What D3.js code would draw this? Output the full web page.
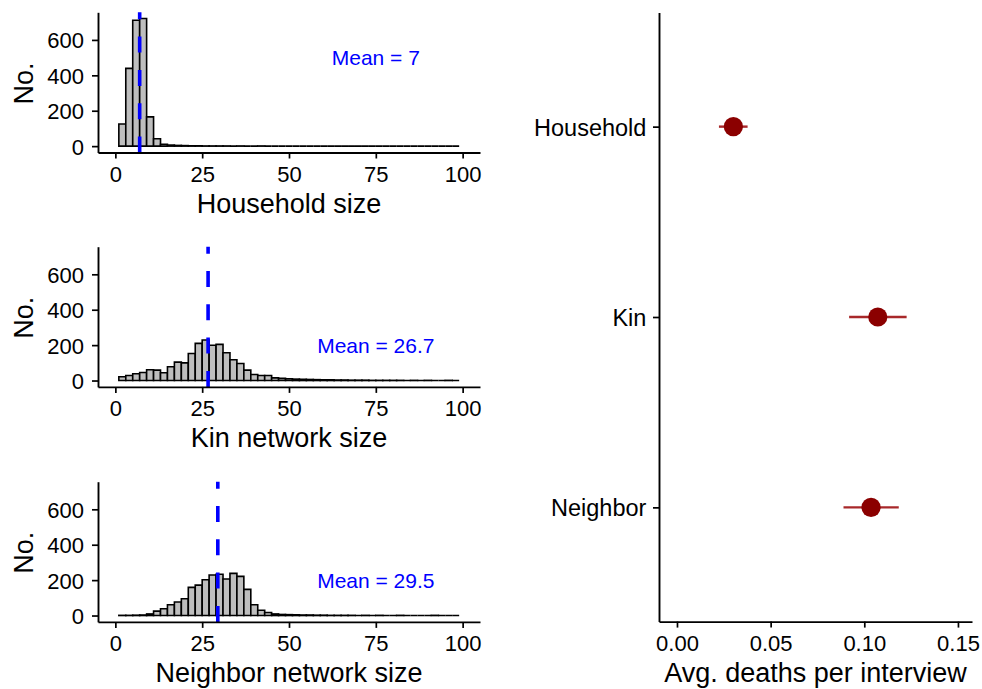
<!DOCTYPE html>
<html><head><meta charset="utf-8">
<script src="https://cdn.jsdelivr.net/npm/d3@7"></script>
<style>
body{margin:0;background:#fff}
text{font-family:"Liberation Sans",Arial,Helvetica,sans-serif;fill:#000}
</style>
</head><body>
<svg id="c" width="982" height="689"></svg>
<script>
// ---------- DATA ----------
const binStarts = [1,3,5,7,9,11,13,15,17,19,21,23,25,27,29,31,33,35,37,39,41,43,45,47,49,
  51,53,55,57,59,61,63,65,67,69,71,73,75,77,79,81,83,85,87,89,91,93,95,97];
const binWidth = 2;
const householdCounts = [125,439,711,721,165,42,11,6,4,3, 2,2,1,1,1,1,0,1,0,0, 1,0,0,0,0,0,0,0,0,0, 0,0,0,0,0,0,0,0,0,0, 0,0,0,0,0,0,0,0,0];
const kinCounts = [21,28,38,45,61,59,44,78,104,100, 153,210,229,199,204,157,117,96,59,34, 28,28,15,12,10,8,7,6,5,4, 4,3,3,2,2,2,1,1,1,1, 1,0,1,0,1,0,0,1,0];
const neighborCounts = [1,1,2,3,9,25,38,61,76,95, 159,172,202,229,233,206,238,221,148,61, 30,17,9,6,5,4,3,3,2,2, 1,1,1,1,0,1,0,1,0,0, 1,0,0,0,0,1,0,0,0];
const histTitles = ["Household size","Kin network size","Neighbor network size"];
const histMeans = [7, 26.7, 29.5];
const meanLabels = ["Mean = 7","Mean = 26.7","Mean = 29.5"];
const meanLabelX = [75, 75, 75];
const meanLabelY = [500, 200, 200];
const histXTicks = [0,25,50,75,100];
const histYTicks = [0,200,400,600];

const groups = ["Household","Kin","Neighbor"];
const deathMean = [0.0301, 0.1072, 0.1036];
const deathLow  = [0.0224, 0.0919, 0.0889];
const deathHigh = [0.0377, 0.1226, 0.1184];
const deathTicks = [0, 0.05, 0.10, 0.15];
const deathTickLabels = ["0.00","0.05","0.10","0.15"];

// ---------- DRAW ----------
const svg = d3.select("#c");
const allCounts = [householdCounts, kinCounts, neighborCounts];

const L = {x0: 98, x1: 480, tops: [12.3, 246.7, 481.7], h: 140.2};

const x = d3.scaleLinear().domain([-5, 105]).range([L.x0, L.x1]);

allCounts.forEach((counts, p) => {
  const top = L.tops[p], bottom = top + L.h;
  const y = d3.scaleLinear().domain([-36, 756]).range([bottom, top]);
  const g = svg.append("g");

  // bars
  g.selectAll("path.bar").data(binStarts).join("path")
    .attr("class","bar")
    .attr("d", (s,i) => {
      const xa = x(s), xb = x(s + binWidth), y0 = y(0), y1 = y(counts[i]);
      return `M${xa},${y0}V${y1}H${xb}V${y0}Z`;
    })
    .attr("fill", "#BEBEBE").attr("stroke", "#000").attr("stroke-width", 1.6)
    .attr("stroke-linejoin","miter");

  // mean line (drawn bottom -> top)
  const mx = x(histMeans[p]);
  g.append("line").attr("x1", mx).attr("x2", mx).attr("y1", bottom).attr("y2", top)
    .attr("stroke", "#0000FF").attr("stroke-width", 3.6).attr("stroke-dasharray", "16 17.3");

  // mean label
  g.append("text").attr("x", x(meanLabelX[p])).attr("y", y(meanLabelY[p])).attr("dy", "0.36em")
    .attr("text-anchor","middle").style("font-size","21px").style("fill","#0000FF")
    .text(meanLabels[p]);

  // axes
  const ax = g.append("g").attr("transform", `translate(0,${bottom})`)
    .call(d3.axisBottom(x).tickValues(histXTicks).tickSize(6).tickSizeOuter(0).tickFormat(d3.format("d")));
  ax.selectAll("text").attr("y", 29).attr("dy", 0).style("font-size","22px");
  const ay = g.append("g").attr("transform", `translate(${L.x0},0)`)
    .call(d3.axisLeft(y).tickValues(histYTicks).tickSize(6).tickSizeOuter(0).tickFormat(d3.format("d")));
  ay.selectAll("text").attr("x", -14).attr("dy", "0.36em").style("font-size","22px");
  [ax, ay].forEach(a => {
    a.select(".domain").attr("stroke-width", 1.9).attr("stroke","#000");
    a.selectAll(".tick line").attr("stroke-width", 1.7).attr("stroke","#000");
    a.attr("font-family", null).attr("font-size", null);
  });

  // titles
  g.append("text").attr("x", (L.x0 + L.x1) / 2).attr("y", bottom + 60.5)
    .attr("text-anchor","middle").style("font-size","27px").text(histTitles[p]);
  g.append("text").attr("transform", `translate(33,${top + L.h/2 + 1}) rotate(-90)`)
    .attr("text-anchor","middle").style("font-size","27px").text("No.");
});

// right panel
const R = {x0: 659, x1: 972, top: 12.4, bottom: 621.6};
const xr = d3.scaleLinear().domain([-0.0096, 0.1575]).range([R.x0, R.x1]);
const yr = d3.scalePoint().domain(groups).range([R.top, R.bottom]).padding(0.6);
const gr = svg.append("g");

gr.selectAll("line.err").data(groups).join("line").attr("class","err")
  .attr("x1", (d,i) => xr(deathLow[i])).attr("x2", (d,i) => xr(deathHigh[i]))
  .attr("y1", d => yr(d)).attr("y2", d => yr(d))
  .attr("stroke", "#A8282A").attr("stroke-width", 2.4);
gr.selectAll("circle.pt").data(groups).join("circle").attr("class","pt")
  .attr("cx", (d,i) => xr(deathMean[i])).attr("cy", d => yr(d)).attr("r", 9.6)
  .attr("fill", "#8B0000");

const rax = gr.append("g").attr("transform", `translate(0,${R.bottom})`)
  .call(d3.axisBottom(xr).tickValues(deathTicks).tickSize(6).tickSizeOuter(0)
    .tickFormat((d,i) => deathTickLabels[i]));
rax.selectAll("text").attr("y", 29).attr("dy", 0).style("font-size","22px");
const ray = gr.append("g").attr("transform", `translate(${R.x0},0)`)
  .call(d3.axisLeft(yr).tickSize(6).tickSizeOuter(0));
ray.selectAll("text").attr("x", -12.6).attr("dy", "0.36em").style("font-size","23.5px");
[rax, ray].forEach(a => {
  a.select(".domain").attr("stroke-width", 1.9).attr("stroke","#000");
  a.selectAll(".tick line").attr("stroke-width", 1.7).attr("stroke","#000");
  a.attr("font-family", null).attr("font-size", null);
});
gr.append("text").attr("x", (R.x0 + R.x1) / 2).attr("y", R.bottom + 60)
  .attr("text-anchor","middle").style("font-size","27px").text("Avg. deaths per interview");
</script>
</body></html>
